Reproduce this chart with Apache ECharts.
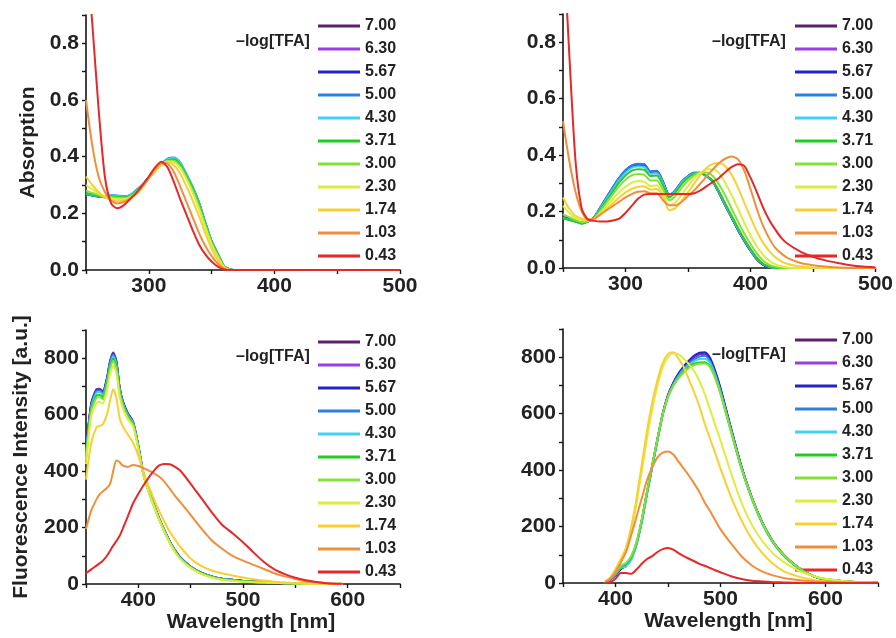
<!DOCTYPE html>
<html><head><meta charset="utf-8">
<script src="https://cdn.jsdelivr.net/npm/echarts@6/dist/echarts.min.js"></script>
<style>html,body{margin:0;padding:0;background:#fff}#c{width:896px;height:638px}</style>
</head><body><div id="c"></div>
<script>
// legend / series names and colours
const names = ['7.00','6.30','5.67','5.00','4.30','3.71','3.00','2.30','1.74','1.03','0.43'];
const colors = ['#5b1f6e','#9a3ee6','#2323cc','#2f7fe3','#3fd2f2','#22cc22','#86e03a','#dced3f','#f7d133','#ef8f3c','#e52828'];

// ---- Panel 1: absorption (top-left) ----
const wl1 = [250,255,260,265,270,275,280,285,290,295,300,305,310,315,320,325,330,335,340,345,350,355,360,365,370,380,500];
const abs1_700 = [.27,.265,.26,.258,.262,.26,.258,.262,.28,.30,.325,.35,.372,.39,.393,.375,.335,.29,.235,.165,.10,.055,.012,.002,0,0,0];
const abs1_630 = [.27,.265,.26,.258,.262,.26,.258,.262,.28,.30,.325,.35,.372,.389,.392,.374,.334,.289,.234,.164,.10,.055,.012,.002,0,0,0];
const abs1_567 = [.268,.263,.259,.257,.262,.261,.259,.263,.281,.301,.326,.351,.373,.391,.394,.376,.336,.291,.236,.166,.101,.056,.013,.002,0,0,0];
const abs1_500 = [.268,.263,.259,.258,.264,.263,.26,.264,.282,.302,.327,.352,.374,.393,.397,.379,.338,.293,.238,.168,.103,.057,.013,.002,0,0,0];
const abs1_430 = [.27,.265,.26,.258,.263,.262,.259,.263,.281,.301,.326,.351,.373,.391,.395,.378,.338,.293,.237,.167,.102,.056,.013,.002,0,0,0];
const abs1_371 = [.272,.266,.26,.257,.26,.258,.256,.26,.278,.299,.325,.35,.372,.388,.39,.372,.332,.287,.232,.163,.099,.053,.012,.002,0,0,0];
const abs1_300 = [.28,.272,.265,.258,.258,.255,.253,.258,.275,.297,.324,.35,.372,.386,.386,.366,.326,.28,.225,.158,.095,.05,.011,.001,0,0,0];
const abs1_230 = [.30,.285,.27,.258,.252,.25,.25,.255,.27,.295,.325,.352,.372,.383,.38,.36,.32,.272,.215,.15,.09,.045,.01,0,0,0,0];
const abs1_174 = [.33,.30,.275,.257,.247,.243,.245,.252,.268,.292,.322,.35,.37,.38,.37,.34,.295,.245,.19,.13,.075,.035,.008,0,0,0,0];
const abs1_103 = [.60,.44,.33,.275,.245,.235,.24,.252,.27,.295,.325,.355,.378,.375,.345,.295,.24,.185,.13,.085,.05,.022,.005,0,0,0,0];
const abs1_043 = [1.15,.87,.57,.33,.235,.218,.228,.25,.272,.30,.33,.362,.382,.362,.31,.25,.195,.14,.09,.055,.03,.012,.002,0,0,0,0];

// ---- Panel 2: absorption (top-right) ----
const wl2 = [250,255,260,265,270,275,280,285,290,295,300,305,310,315,320,325,330,335,340,345,350,355,360,365,370,375,380,385,390,395,400,405,410,415,420,425,430,440,450,460,470,480,490,500];
const abs2_700 = [.18,.175,.168,.16,.165,.18,.215,.25,.285,.318,.345,.362,.367,.366,.34,.343,.305,.258,.275,.305,.325,.337,.337,.325,.305,.265,.22,.178,.135,.097,.062,.032,.012,.003,0,0,0,0,0,0,0,0,0,0];
const abs2_630 = [.18,.175,.168,.16,.165,.18,.214,.249,.284,.317,.344,.361,.366,.365,.339,.342,.304,.258,.275,.305,.325,.337,.337,.325,.305,.265,.22,.178,.135,.097,.062,.032,.012,.003,0,0,0,0,0,0,0,0,0,0];
const abs2_567 = [.179,.174,.167,.159,.165,.18,.215,.251,.286,.319,.346,.363,.368,.367,.341,.344,.305,.258,.275,.305,.325,.337,.337,.325,.305,.265,.22,.178,.135,.097,.062,.032,.012,.003,0,0,0,0,0,0,0,0,0,0];
const abs2_500 = [.178,.172,.166,.158,.165,.18,.216,.252,.287,.32,.347,.364,.369,.368,.342,.345,.305,.258,.275,.305,.326,.338,.338,.326,.306,.266,.221,.179,.136,.098,.063,.033,.013,.004,0,0,0,0,0,0,0,0,0,0];
const abs2_430 = [.177,.171,.165,.158,.165,.179,.212,.246,.28,.312,.338,.355,.36,.358,.334,.336,.3,.255,.272,.302,.323,.335,.336,.325,.306,.267,.223,.181,.138,.1,.065,.035,.014,.004,0,0,0,0,0,0,0,0,0,0];
const abs2_371 = [.176,.17,.164,.157,.165,.178,.208,.24,.272,.303,.328,.345,.35,.348,.326,.328,.293,.25,.268,.298,.32,.333,.335,.326,.308,.27,.227,.185,.142,.103,.068,.037,.015,.005,0,0,0,0,0,0,0,0,0,0];
const abs2_300 = [.19,.18,.17,.162,.166,.177,.203,.232,.262,.29,.313,.328,.333,.33,.31,.31,.278,.24,.255,.285,.31,.328,.338,.338,.325,.295,.255,.21,.165,.122,.085,.052,.027,.011,.004,0,0,0,0,0,0,0,0,0];
const abs2_230 = [.22,.195,.178,.17,.168,.175,.196,.22,.245,.268,.288,.302,.308,.305,.29,.293,.262,.222,.232,.26,.29,.318,.338,.35,.35,.335,.30,.258,.21,.16,.115,.077,.047,.026,.013,.006,.002,0,0,0,0,0,0,0];
const abs2_174 = [.25,.21,.185,.175,.17,.174,.19,.21,.23,.25,.268,.28,.288,.29,.278,.28,.253,.205,.212,.238,.268,.30,.33,.355,.37,.372,.36,.33,.285,.232,.18,.13,.09,.06,.038,.023,.014,.005,.001,0,0,0,0,0];
const abs2_103 = [.52,.38,.27,.2,.172,.175,.19,.205,.22,.235,.25,.262,.27,.272,.265,.265,.24,.222,.222,.235,.255,.275,.30,.325,.35,.372,.388,.395,.385,.345,.28,.21,.15,.105,.07,.05,.035,.018,.01,.005,.002,0,0,0];
const abs2_043 = [1.19,.76,.38,.21,.172,.167,.165,.165,.168,.175,.195,.22,.245,.26,.262,.262,.262,.262,.262,.262,.262,.265,.275,.29,.305,.32,.34,.358,.368,.362,.32,.27,.215,.17,.135,.105,.085,.058,.04,.027,.018,.01,.005,.002];

// ---- Panel 3: fluorescence (bottom-left) ----
const wl3 = [350,355,360,363,366,370,373,376,379,382,385,390,395,400,405,410,415,420,425,430,435,440,450,460,470,480,490,500,510,520,530,540,550,560,570,580,595];
const fl3_700 = [470,640,690,692,682,730,790,820,790,700,650,605,575,490,390,330,280,232,190,152,120,95,62,40,27,19,15,11,9,7,5,3,2,1,0,0,0];
const fl3_630 = [468,638,688,690,680,728,788,818,788,698,648,603,573,489,389,329,279,231,189,151,119,94,61,40,27,19,15,11,9,7,5,3,2,1,0,0,0];
const fl3_567 = [465,635,686,688,678,725,785,815,786,697,647,602,572,488,389,329,279,231,189,151,119,94,61,40,27,19,15,11,9,7,5,3,2,1,0,0,0];
const fl3_500 = [462,632,684,686,676,722,782,812,784,696,646,601,572,488,388,328,278,230,188,150,118,93,60,39,26,18,14,10,8,6,4,3,2,1,0,0,0];
const fl3_430 = [455,625,678,680,670,716,776,806,778,692,643,598,570,486,387,327,277,229,187,149,117,92,60,39,26,18,14,10,8,6,4,3,2,1,0,0,0];
const fl3_371 = [448,618,668,670,662,708,768,798,770,686,638,594,567,484,386,326,276,228,186,148,116,91,59,38,25,17,13,10,8,6,4,3,2,1,0,0,0];
const fl3_300 = [440,610,660,662,654,700,760,790,762,680,633,590,564,482,385,325,275,227,185,147,115,90,58,37,24,16,12,9,7,5,4,3,2,1,0,0,0];
const fl3_230 = [425,595,642,645,640,685,745,772,748,668,624,583,558,478,383,324,274,226,184,146,114,89,57,36,23,15,11,8,6,5,4,3,2,1,0,0,0];
const fl3_174 = [370,500,555,560,565,600,650,690,660,590,560,530,500,455,395,345,300,258,220,185,158,132,90,64,48,38,30,23,17,12,8,5,3,2,1,0,0];
const fl3_103 = [195,260,300,318,328,340,355,400,438,432,420,415,422,418,410,402,392,380,362,338,312,290,245,198,155,125,100,83,68,53,38,27,18,10,6,3,1];
const fl3_043 = [38,52,65,73,82,100,118,136,152,170,195,240,286,320,350,378,402,420,425,424,415,402,355,305,255,210,180,148,112,78,52,35,22,13,7,3,1];

// ---- Panel 4: fluorescence (bottom-right) ----
const wl4 = [390,395,400,405,410,415,420,425,430,435,440,445,450,455,460,465,470,475,480,485,490,495,500,510,520,530,540,550,560,570,580,590,600,620,650];
const fl4_700 = [0,12,28,50,62,88,140,220,320,415,510,600,665,708,740,765,785,800,810,812,792,745,685,545,410,300,212,146,100,66,40,22,13,5,1];
const fl4_630 = [0,12,28,50,62,88,140,220,320,415,510,600,665,708,741,767,787,803,813,815,795,748,688,547,412,301,213,147,100,66,40,22,13,5,1];
const fl4_567 = [0,12,28,50,62,88,140,220,320,415,510,600,665,709,742,768,789,806,816,818,798,751,691,549,413,302,214,147,101,66,40,22,13,5,1];
const fl4_500 = [0,13,30,52,60,85,138,218,318,413,508,598,663,705,736,760,778,792,802,805,787,741,683,543,409,299,211,145,99,65,39,22,13,5,1];
const fl4_430 = [0,14,32,54,58,82,135,215,315,410,505,595,660,702,732,755,772,786,794,795,779,735,678,540,407,298,210,144,98,65,39,22,13,5,1];
const fl4_371 = [0,15,35,58,68,92,142,222,322,416,510,598,660,700,728,750,766,777,781,782,768,727,672,537,405,297,210,144,98,65,39,22,13,5,1];
const fl4_300 = [0,16,37,60,72,96,146,226,326,420,513,600,660,698,725,746,762,772,777,778,765,726,672,538,407,299,212,146,100,66,40,23,14,5,1];
const fl4_230 = [5,18,45,80,115,185,280,395,510,615,700,765,800,815,810,795,775,750,715,670,615,560,505,390,285,205,148,105,75,52,35,23,15,6,1];
const fl4_174 = [5,20,50,85,125,200,300,420,540,640,720,780,812,818,795,765,720,675,625,565,512,460,405,305,222,155,105,68,42,28,17,10,6,2,0];
const fl4_103 = [3,15,40,72,110,170,235,300,365,410,445,462,466,455,430,405,380,352,322,285,255,222,190,140,95,62,40,27,18,12,8,5,4,2,1];
const fl4_043 = [0,3,15,35,35,33,48,68,85,95,110,120,124,118,106,95,86,77,68,61,53,45,38,24,14,8,5,3,2,1,0,0,0,0,0];

const panels = [
  {x: wl1, ys: [abs1_700,abs1_630,abs1_567,abs1_500,abs1_430,abs1_371,abs1_300,abs1_230,abs1_174,abs1_103,abs1_043]},
  {x: wl2, ys: [abs2_700,abs2_630,abs2_567,abs2_500,abs2_430,abs2_371,abs2_300,abs2_230,abs2_174,abs2_103,abs2_043]},
  {x: wl3, ys: [fl3_700,fl3_630,fl3_567,fl3_500,fl3_430,fl3_371,fl3_300,fl3_230,fl3_174,fl3_103,fl3_043]},
  {x: wl4, ys: [fl4_700,fl4_630,fl4_567,fl4_500,fl4_430,fl4_371,fl4_300,fl4_230,fl4_174,fl4_103,fl4_043]}
];

const FONT = 'Liberation Sans, Arial, sans-serif';
const AX = '#151515';
const TXT = '#222';

const grids = [
  {left: 86, top: 15, width: 314, height: 255},
  {left: 563, top: 14, width: 314, height: 254},
  {left: 86, top: 330, width: 314, height: 254},
  {left: 563, top: 329, width: 315, height: 254}
];

const xRanges = [[250,500],[250,500],[350,650],[350,650]];

function xAxisOf(i) {
  const a = {
    type: 'value', gridIndex: i, min: xRanges[i][0], max: xRanges[i][1], interval: 50,
    splitLine: {show: false},
    axisLine: {lineStyle: {color: AX, width: 1.6}},
    axisTick: {length: 4, lineStyle: {color: AX, width: 1.4}},
    axisLabel: {formatter: v => (v % 100 === 0 ? String(v) : ''), fontSize: 21, fontWeight: 'bold', color: TXT, fontFamily: FONT, margin: 6, showMinLabel: true, showMaxLabel: true}
  };
  if (i >= 2) {
    a.name = 'Wavelength [nm]';
    a.nameLocation = 'middle';
    a.nameGap = 27;
    a.nameTextStyle = {fontSize: 21, fontWeight: 'bold', color: TXT, fontFamily: FONT, padding: [0, 0, 0, 16]};
  }
  return a;
}

function yAxisOf(i) {
  const abs = i < 2;
  const a = {
    type: 'value', gridIndex: i, min: 0, max: abs ? 0.9 : 900, interval: abs ? 0.1 : 100,
    splitLine: {show: false},
    axisLine: {show: true, lineStyle: {color: AX, width: 1.6}},
    axisTick: {show: true, length: 4, lineStyle: {color: AX, width: 1.4}},
    axisLabel: {
      formatter: abs ? (v => { const k = Math.round(v * 10); return k % 2 === 0 && k < 9 ? (k / 10).toFixed(1) : ''; })
                     : (v => (Math.round(v) % 200 === 0 && v < 900 ? String(Math.round(v)) : '')),
      fontSize: 21, fontWeight: 'bold', color: TXT, fontFamily: FONT, margin: 7
    }
  };
  if (i === 0) {
    a.name = 'Absorption'; a.nameLocation = 'middle'; a.nameGap = 47;
    a.nameTextStyle = {fontSize: 21, fontWeight: 'bold', color: TXT, fontFamily: FONT};
  }
  if (i === 2) {
    a.name = 'Fluorescence Intensity [a.u.]'; a.nameLocation = 'middle'; a.nameGap = 54;
    a.nameTextStyle = {fontSize: 21, fontWeight: 'bold', color: TXT, fontFamily: FONT};
  }
  return a;
}

const legendPos = [[318, 17], [795, 17], [318, 333], [795, 331]];
const titlePos = [[236, 34], [712, 34], [236, 349], [712, 347]];

const series = [];
panels.forEach((p, pi) => {
  p.ys.forEach((ys, si) => {
    series.push({
      type: 'line', name: names[si], xAxisIndex: pi, yAxisIndex: pi,
      data: p.x.map((x, k) => [x, ys[k]]),
      showSymbol: false, smooth: 0.25, clip: true,
      lineStyle: {width: 2, color: colors[si]}, itemStyle: {color: colors[si]},
      emphasis: {disabled: true}, z: 2 + si
    });
  });
});

const chart = echarts.init(document.getElementById('c'), null, {renderer: 'canvas'});
chart.setOption({
  animation: false,
  backgroundColor: '#fff',
  grid: grids,
  xAxis: [0,1,2,3].map(xAxisOf),
  yAxis: [0,1,2,3].map(yAxisOf),
  title: titlePos.map(p => ({text: '–log[TFA]', left: p[0], top: p[1], padding: 0,
    textStyle: {fontSize: 16, fontWeight: 'bold', color: TXT, fontFamily: FONT}})),
  legend: legendPos.map(p => ({
    data: names, orient: 'vertical', left: p[0], top: p[1], padding: 0,
    icon: 'rect', itemWidth: 42, itemHeight: 3, itemGap: 5, selectedMode: false,
    textStyle: {fontSize: 16, fontWeight: 'bold', color: TXT, fontFamily: FONT, lineHeight: 18}
  })),
  series: series
});
</script>
</body></html>
